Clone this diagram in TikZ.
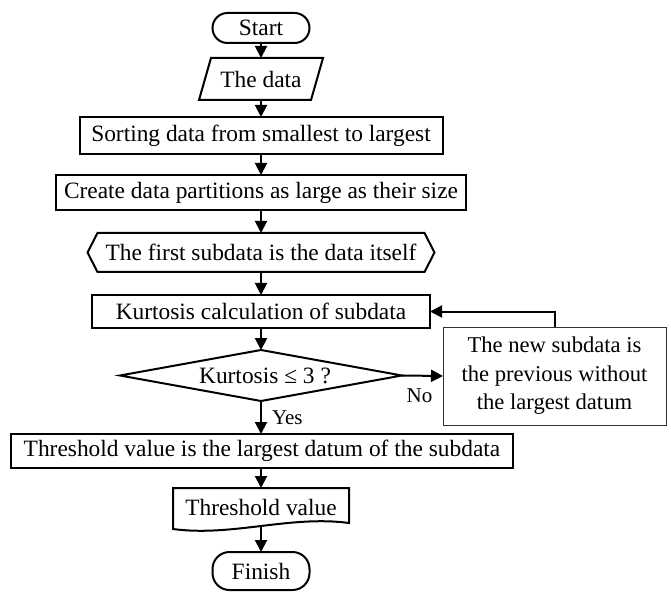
\documentclass[tikz,border=0pt]{standalone}
\usepackage{fontspec}
\setmainfont{Liberation Serif}
\usetikzlibrary{arrows.meta}
\begin{document}
\begin{tikzpicture}[x=1pt,y=-1pt,
  every node/.style={outer sep=0pt, inner sep=0pt, font=\fontsize{23.4}{28.5}\selectfont},
  shapeline/.style={line width=2pt, line join=miter},
  termbox/.style={draw, line width=2pt, rounded corners=15pt, minimum width=97pt},
  procbox/.style={draw, line width=2pt, rectangle},
  holder/.style={rectangle, draw=none},
  conn/.style={line width=2pt, -{Triangle[length=12pt,width=12pt]}},
  lbl/.style={font=\fontsize{21}{25}\selectfont}
]
\useasboundingbox (0,0) rectangle (671,593);

\node[termbox, minimum height=30pt] (start) at (261,28) {Start};

\node[holder, minimum width=124pt, minimum height=42pt] (data) at (261,79) {The data};
\draw[shapeline] ([xshift=12pt]data.north west) -- (data.north east) -- ([xshift=-12pt]data.south east) -- (data.south west) -- cycle;

\node[procbox, minimum width=363pt, minimum height=37pt] (sort) at (261,135.5) {Sorting data from smallest to largest};
\node[procbox, minimum width=410pt, minimum height=35pt] (create) at (261,192.5) {Create data partitions as large as their size};

\node[holder, minimum width=347pt, minimum height=39pt] (hex) at (261,252.5) {The first subdata is the data itself};
\draw[shapeline] (hex.west) -- ([xshift=10pt]hex.north west) -- ([xshift=-10pt]hex.north east) -- (hex.east) -- ([xshift=-10pt]hex.south east) -- ([xshift=10pt]hex.south west) -- cycle;

\node[procbox, minimum width=338pt, minimum height=33pt] (kurt) at (261,311.5) {Kurtosis calculation of subdata};

\node[holder, minimum width=282pt, minimum height=51pt] (dec) at (261,375.5) {\hspace*{8pt}Kurtosis ≤ 3 ?};
\draw[shapeline] (dec.west) -- (dec.north) -- (dec.east) -- (dec.south) -- cycle;

\node[draw=black!80, line width=0.8pt, minimum width=223pt, minimum height=98pt, align=center, font=\fontsize{22.6}{28.5}\selectfont] (side) at (554.5,376) {The new subdata is\\the previous without\\the largest datum};

\node[procbox, minimum width=502pt, minimum height=34pt] (thr) at (262,451) {Threshold value is the largest datum of the subdata};

\node[holder, minimum width=176pt, minimum height=39pt, anchor=north] (doc) at (261,488) {Threshold value};
\draw[shapeline] (173,488) -- (349,488) -- (349,523) .. controls (290,515) and (232,537) .. (173,529) -- cycle;
\coordinate (docb) at (261,526);

\node[termbox, minimum height=38pt, rounded corners=17pt] (fin) at (261,571) {Finish};

\draw[conn] (start.south) -- (data.north);
\draw[conn] (data.south) -- (sort.north);
\draw[conn] (sort.south) -- (create.north);
\draw[conn] (create.south) -- (hex.north);
\draw[conn] (hex.south) -- (kurt.north);
\draw[conn] (kurt.south) -- (dec.north);
\draw[conn] (dec.south) -- node[lbl, anchor=west, xshift=11pt] (yes) {Yes} (dec.south |- thr.north);
\draw[conn] (dec.east) -- node[lbl, below=12.5pt, xshift=-3pt] (no) {No} (side.west);
\draw[conn] (side.north) |- (kurt.east);
\draw[conn] (thr.south -| doc.north) -- (doc.north);
\draw[conn] (docb) -- (fin.north);
\end{tikzpicture}
\end{document}
